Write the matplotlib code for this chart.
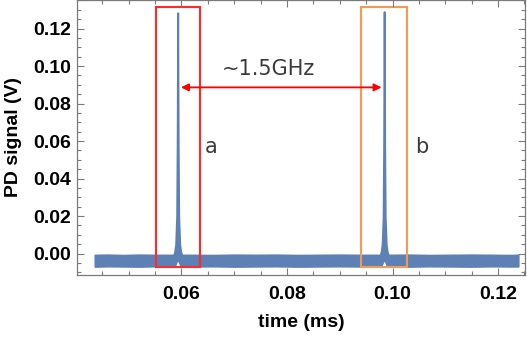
import numpy as np
import matplotlib
matplotlib.use("Agg")
import matplotlib.pyplot as plt
from matplotlib.patches import Rectangle
from matplotlib.ticker import MultipleLocator, FormatStrFormatter
from matplotlib.font_manager import FontProperties

# photodiode trace: noise envelope (upper / lower) in V vs time in ms
base1_t = [0.0436, 0.0460, 0.0490, 0.0520, 0.0550, 0.0580]
base1_hi = [-0.0008, -0.0007, -0.0009, -0.0007, -0.0008, -0.0008]
base1_lo = [-0.0069, -0.0067, -0.0068, -0.0069, -0.0067, -0.0068]

peak_a_t = [0.05852, 0.05871, 0.05890, 0.05909, 0.05919, 0.05928,
            0.05937, 0.05947, 0.05966, 0.05985, 0.06004]
peak_a_hi = [-0.0008, 0.0010, 0.0050, 0.0200, 0.0600, 0.1284,
             0.0600, 0.0200, 0.0050, 0.0010, -0.0008]
peak_a_lo = [-0.0068, -0.0068, -0.0052, -0.0040, -0.0036, -0.0035,
             -0.0036, -0.0040, -0.0052, -0.0068, -0.0068]

base2_t = [0.0620, 0.0660, 0.0700, 0.0740, 0.0780, 0.0820, 0.0860,
           0.0900, 0.0940, 0.0970]
base2_hi = [-0.0008, -0.0009, -0.0007, -0.0008, -0.0007, -0.0009,
            -0.0008, -0.0007, -0.0008, -0.0008]
base2_lo = [-0.0068, -0.0067, -0.0069, -0.0068, -0.0067, -0.0069,
            -0.0068, -0.0067, -0.0068, -0.0068]

peak_b_t = [0.09765, 0.09784, 0.09803, 0.09822, 0.09832, 0.09841,
            0.09850, 0.09860, 0.09879, 0.09898, 0.09917]
peak_b_hi = [-0.0008, 0.0010, 0.0050, 0.0200, 0.0600, 0.1290,
             0.0600, 0.0200, 0.0050, 0.0010, -0.0008]
peak_b_lo = [-0.0068, -0.0068, -0.0052, -0.0040, -0.0036, -0.0035,
             -0.0036, -0.0040, -0.0052, -0.0068, -0.0068]

base3_t = [0.0995, 0.1030, 0.1070, 0.1110, 0.1150, 0.1190, 0.1220, 0.1238]
base3_hi = [-0.0008, -0.0007, -0.0009, -0.0008, -0.0007, -0.0008,
            -0.0009, -0.0008]
base3_lo = [-0.0068, -0.0069, -0.0067, -0.0068, -0.0069, -0.0067,
            -0.0068, -0.0068]

# marker boxes around each resonance (t0, t1, v0, v1)
box_a = (0.05517, 0.06350, -0.0070, 0.1316)
box_b = (0.09410, 0.10265, -0.0070, 0.1316)

# spacing arrow and labels
arrow_y = 0.0886
arrow_t = (0.05990, 0.09792)
spacing_label = "~1.5GHz"
spacing_pos = (0.06761, 0.0952)
peak_labels = ["a", "b"]
peak_label_pos = [(0.06559, 0.0536), (0.10545, 0.0536)]

trace_t = np.concatenate([base1_t, peak_a_t, base2_t, peak_b_t, base3_t])
trace_hi = np.concatenate([base1_hi, peak_a_hi, base2_hi, peak_b_hi, base3_hi])
trace_lo = np.concatenate([base1_lo, peak_a_lo, base2_lo, peak_b_lo, base3_lo])

blue = "#5E81B5"
frame = "#7a7a7a"
bold = dict(family="Liberation Sans", weight="bold", size=14)

fig = plt.figure(figsize=(5.27, 3.38), dpi=100)
ax = fig.add_axes([0.1461, 0.1873, 0.8501, 0.8127])

ax.fill_between(trace_t, trace_lo, trace_hi, color=blue,
                edgecolor=blue, linewidth=1.4)

for (t0, t1, v0, v1), col in zip([box_a, box_b], ["#ff2a2a", "#f59a52"]):
    ax.add_patch(Rectangle((t0, v0), t1 - t0, v1 - v0, fill=False,
                           edgecolor=col, linewidth=1.5))

ax.annotate("", xy=(arrow_t[0], arrow_y), xytext=(arrow_t[1], arrow_y),
            arrowprops=dict(arrowstyle="<|-|>", color="red", lw=1.3,
                            mutation_scale=11, shrinkA=0, shrinkB=0))
ax.text(spacing_pos[0], spacing_pos[1], spacing_label, family="DejaVu Sans",
        size=15, color="#3a3a3a", ha="left", va="baseline")
for lab, (tx, vy) in zip(peak_labels, peak_label_pos):
    ax.text(tx, vy, lab, family="DejaVu Sans", size=15, color="#3a3a3a",
            ha="center", va="baseline")

ax.set_xlim(0.0402, 0.1251)
ax.set_ylim(-0.0113, 0.1352)
ax.xaxis.set_major_locator(MultipleLocator(0.02))
ax.xaxis.set_minor_locator(MultipleLocator(0.005))
ax.yaxis.set_major_locator(MultipleLocator(0.02))
ax.yaxis.set_minor_locator(MultipleLocator(0.005))
ax.xaxis.set_major_formatter(FormatStrFormatter("%.2f"))
ax.yaxis.set_major_formatter(FormatStrFormatter("%.2f"))

ax.tick_params(which="both", direction="in", top=True, right=True,
               color=frame, width=0.8)
ax.tick_params(which="major", length=5)
ax.tick_params(which="minor", length=3)
ax.tick_params(axis="x", pad=8)
ax.tick_params(axis="y", pad=4)
for spine in ax.spines.values():
    spine.set_color(frame)
    spine.set_linewidth(0.9)
for lab in ax.get_xticklabels() + ax.get_yticklabels():
    lab.set_fontproperties(FontProperties(**bold))

ax.set_xlabel("time (ms)", labelpad=8, **bold)
ax.set_ylabel("PD signal (V)", labelpad=8, **bold)

fig.savefig("out.png", dpi=100)
